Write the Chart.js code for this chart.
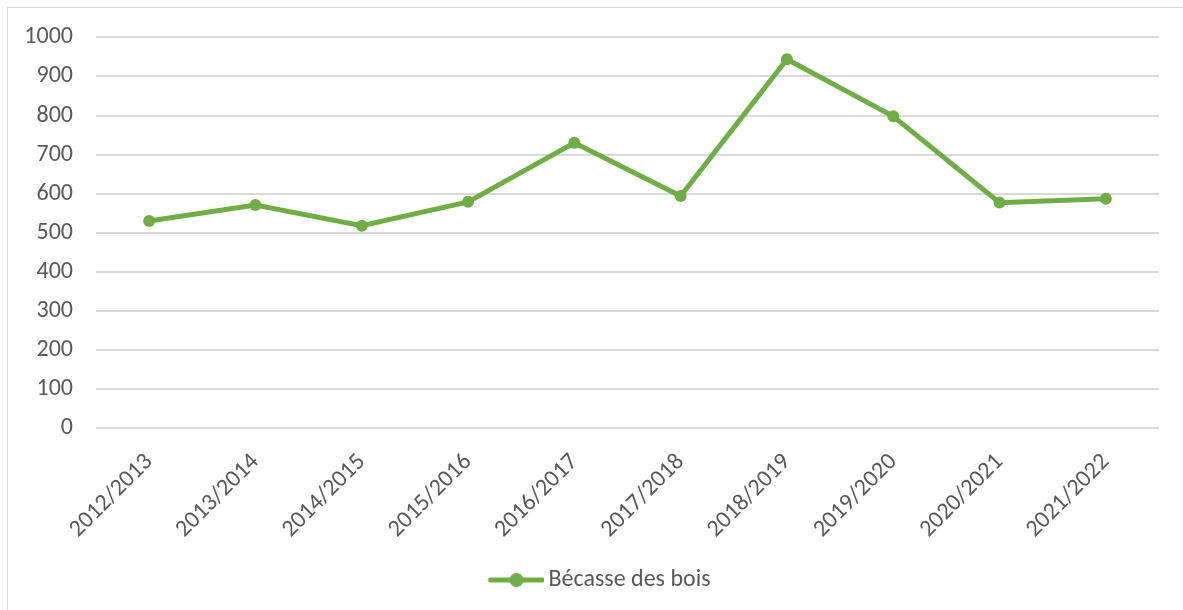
<!DOCTYPE html>
<html>
<head>
<meta charset="utf-8">
<script src="https://cdn.jsdelivr.net/npm/chart.js@4/dist/chart.umd.min.js"></script>
<style>
  html, body { margin: 0; padding: 0; background: #fff; overflow: hidden; }
  #box {
    position: absolute; left: 7px; top: 7px;
    width: 1190px; height: 620px;
    border: 1px solid #d9d9d9;
    box-sizing: border-box;
  }
  #wrap { position: absolute; left: 0; top: -8px; width: 1176px; height: 612px; }
</style>
</head>
<body>
<div id="box"><div id="wrap"><canvas id="chart"></canvas></div></div>
<script>
"use strict";

// data
const seasons = ["2012/2013", "2013/2014", "2014/2015", "2015/2016", "2016/2017",
  "2017/2018", "2018/2019", "2019/2020", "2020/2021", "2021/2022"];
const woodcock = [530, 571, 518, 579, 730, 594, 944, 798, 577, 587];
const seriesName = "Bécasse des bois";

const green = "#70ad47";
const grey = "#595959";
const fontFamily = "Carlito, Calibri, 'Open Sans', sans-serif";
const fontSize = 24;

// legend marker: line with a dot (left part of the image is empty on purpose)
const marker = document.createElement("canvas");
marker.width = 96;
marker.height = 16;
{
  const c = marker.getContext("2d");
  c.strokeStyle = green;
  c.lineWidth = 5;
  c.lineCap = "round";
  c.beginPath();
  c.moveTo(42, 8);
  c.lineTo(94, 8);
  c.stroke();
  c.fillStyle = green;
  c.beginPath();
  c.arc(68, 8, 7, 0, Math.PI * 2);
  c.fill();
}

function renderChart() {
  const ctx = document.getElementById("chart");

  new Chart(ctx, {
    type: "line",
    data: {
      labels: seasons,
      datasets: [
        {
          label: seriesName,
          data: woodcock,
          borderColor: green,
          backgroundColor: green,
          borderWidth: 5,
          pointRadius: 6,
          pointHoverRadius: 6,
          pointBackgroundColor: green,
          pointBorderWidth: 0,
          tension: 0,
        },
      ],
    },
    options: {
      responsive: true,
      maintainAspectRatio: false,
      animation: false,
      layout: { autoPadding: false, padding: { left: 0, top: 29, right: 25, bottom: 10 } },
      plugins: {
        tooltip: { enabled: false },
        legend: {
          position: "bottom",
          labels: {
            usePointStyle: true,
            pointStyleWidth: 80,
            color: grey,
            font: { family: fontFamily, size: fontSize },
            generateLabels: (chart) => [{
              text: seriesName,
              pointStyle: marker,
              fontColor: grey,
              lineWidth: 0,
              datasetIndex: 0,
            }],
          },
        },
      },
      scales: {
        x: {
          offset: true,
          grid: { display: false, drawTicks: false },
          border: { display: false },
          ticks: {
            color: grey,
            font: { family: fontFamily, size: fontSize },
            minRotation: 45,
            maxRotation: 45,
            padding: 20,
          },
          afterFit: (scale) => { scale.height = 130; },
        },
        y: {
          min: 0,
          max: 1000,
          grid: { color: "#d9d9d9", lineWidth: 2, drawTicks: false },
          border: { display: false },
          ticks: {
            stepSize: 100,
            color: grey,
            font: { family: fontFamily, size: fontSize },
            padding: 23,
            callback: (v) => String(v),
          },
          afterFit: (scale) => { scale.width = 88; },
        },
      },
    },
  });
}

renderChart();
</script>
</body>
</html>
